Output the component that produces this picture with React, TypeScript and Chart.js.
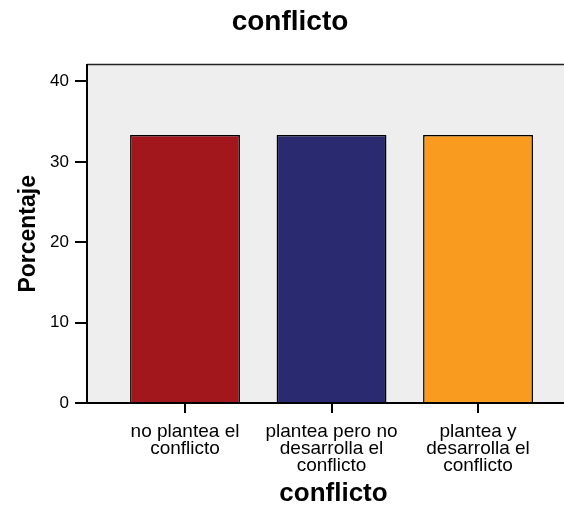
import React, { useEffect, useRef } from "react";
import { Chart, registerables } from "chart.js";

Chart.register(...registerables);

const titleText = "conflicto";
const xTitle = "conflicto";
const yTitle = "Porcentaje";
const categories: string[][] = [
  ["no plantea el", "conflicto"],
  ["plantea pero no", "desarrolla el", "conflicto"],
  ["plantea y", "desarrolla el", "conflicto"],
];
const values: number[] = [33.33, 33.33, 33.33];
const colors: string[] = ["#A1171C", "#2A2A71", "#F99B1F"];
const yTicks: number[] = [0, 10, 20, 30, 40];

const FONT = "'Liberation Sans', Arial, sans-serif";

const bgPlugin = {
  id: "bgPlugin",
  beforeDraw(chart: any) {
    const { ctx, chartArea } = chart;
    ctx.save();
    ctx.fillStyle = "#EEEEEE";
    ctx.fillRect(chartArea.left, chartArea.top, chartArea.right - chartArea.left, chartArea.bottom - chartArea.top);
    ctx.strokeStyle = "#222222";
    ctx.lineWidth = 1.5;
    ctx.beginPath();
    ctx.moveTo(chartArea.left, chartArea.top);
    ctx.lineTo(chartArea.right, chartArea.top);
    ctx.lineTo(chartArea.right, chartArea.bottom);
    ctx.stroke();
    ctx.restore();
  },
};

export default function App() {
  const ref = useRef<HTMLCanvasElement | null>(null);
  useEffect(() => {
    if (!ref.current) return;
    const chart = new Chart(ref.current, {
      type: "bar",
      data: {
        datasets: [
          {
            data: values.map((v, i) => ({ x: i, y: v })),
            backgroundColor: colors,
            borderColor: "#000000",
            borderWidth: 1.5,
            barPercentage: 0.75,
            categoryPercentage: 1,
          },
        ],
      },
      options: {
        responsive: false,
        animation: false,
        layout: { padding: 0 },
        plugins: {
          legend: { display: false },
          tooltip: { enabled: false },
          title: {
            display: true,
            text: titleText,
            color: "#000",
            font: { family: FONT, size: 28, weight: "bold", lineHeight: 1.2 },
            padding: { top: 5, bottom: 26 },
          },
        },
        scales: {
          x: {
            type: "linear",
            offset: false,
            min: -0.669,
            max: 2.696,
            afterBuildTicks: (scale: any) => {
              scale.ticks = categories.map((_, i) => ({ value: i }));
            },
            afterFit: (scale: any) => {
              scale.height = 106;
            },
            ticks: {
              autoSkip: false,
              maxRotation: 0,
              minRotation: 0,
              color: "#000",
              padding: 10,
              font: { family: FONT, size: 19, lineHeight: 0.9 },
              callback: (v: any) => categories[v as number] ?? "",
            },
            grid: {
              display: true,
              offset: false,
              drawOnChartArea: false,
              drawTicks: true,
              tickLength: 10,
              color: "#000",
              lineWidth: 2,
            },
            border: { display: true, color: "#000", width: 2 },
            title: {
              display: true,
              text: xTitle,
              color: "#000",
              font: { family: FONT, size: 26, weight: "bold", lineHeight: 1.2 },
              padding: { top: 0, bottom: 0 },
            },
          },
          y: {
            type: "linear",
            min: 0,
            max: 42.1,
            afterBuildTicks: (scale: any) => {
              scale.ticks = yTicks.map((v) => ({ value: v }));
            },
            afterFit: (scale: any) => {
              scale.width = 87;
            },
            ticks: {
              color: "#000",
              padding: 6,
              font: { family: FONT, size: 17 },
            },
            grid: {
              display: true,
              drawOnChartArea: false,
              drawTicks: true,
              tickLength: 12,
              color: "#000",
              lineWidth: 2,
            },
            border: { display: true, color: "#000", width: 2 },
            title: {
              display: true,
              text: yTitle,
              color: "#000",
              font: { family: FONT, size: 23, weight: "bold", lineHeight: 1.2 },
              padding: { top: 15, bottom: 0 },
            },
          },
        },
      },
      plugins: [bgPlugin],
    } as any);
    return () => chart.destroy();
  }, []);
  return (
    <div
      style={{
        position: "fixed",
        left: 0,
        top: 0,
        width: 564,
        height: 509,
        overflow: "hidden",
        background: "#fff",
      }}
    >
      <canvas ref={ref} width={580} height={509} style={{ display: "block", width: 580, height: 509 }} />
    </div>
  );
}
